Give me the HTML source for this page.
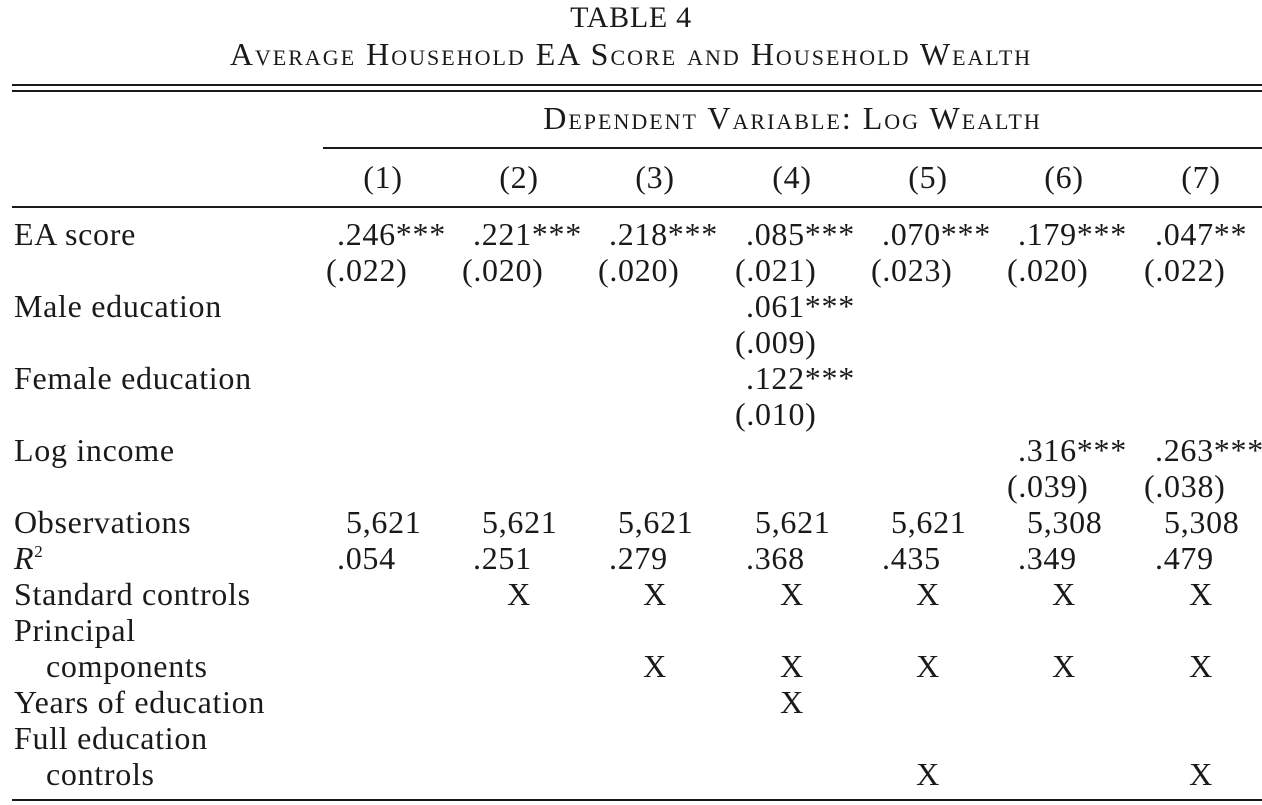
<!DOCTYPE html>
<html><head><meta charset="utf-8">
<style>
html,body{margin:0;padding:0;background:#fff;}
#page{position:relative;width:1262px;height:805px;overflow:hidden;background:#fff;color:#1a1a1a;font-family:"Liberation Serif",serif;font-size:32px;letter-spacing:0.7px;}
.t{position:absolute;white-space:nowrap;line-height:36px;height:36px;}
.rule{position:absolute;background:#1a1a1a;height:2px;}
.sc{font-variant:small-caps;}
</style></head>
<body>
<div id="page">
  <div class="t" style="left:0;width:1262px;text-align:center;top:0px;font-size:30px;">TABLE 4</div>
  <div class="t sc" style="left:0;width:1262px;text-align:center;top:36px;font-size:32px;letter-spacing:2px;">Average Household EA Score and Household Wealth</div>
  <div class="rule" style="left:12px;width:1250px;top:84px;"></div>
  <div class="rule" style="left:12px;width:1250px;top:90px;"></div>
  <div class="t sc" style="left:323px;width:939px;text-align:center;top:100px;font-size:32px;letter-spacing:2px;">Dependent Variable: Log Wealth</div>
  <div class="rule" style="left:323px;width:939px;top:147px;"></div>
  <div class="rule" style="left:12px;width:1250px;top:206px;"></div>
  <div class="rule" style="left:12px;width:1250px;top:799px;"></div>
</div>
<script>
const page=document.getElementById('page');
const colCenters=[383,519,655,792,928,1064,1201];
const colLabels=['(1)','(2)','(3)','(4)','(5)','(6)','(7)'];
const rowLabels=['EA score','','Male education','','Female education','','Log income','','Observations','R²','Standard controls','Principal','components','Years of education','Full education','controls'];
const rowIndent=[0,0,0,0,0,0,0,0,0,0,0,0,1,0,0,1];
const cells=[
[0,0,'.246***','c'],[0,1,'.221***','c'],[0,2,'.218***','c'],[0,3,'.085***','c'],[0,4,'.070***','c'],[0,5,'.179***','c'],[0,6,'.047**','c'],
[1,0,'(.022)','p'],[1,1,'(.020)','p'],[1,2,'(.020)','p'],[1,3,'(.021)','p'],[1,4,'(.023)','p'],[1,5,'(.020)','p'],[1,6,'(.022)','p'],
[2,3,'.061***','c'],[3,3,'(.009)','p'],[4,3,'.122***','c'],[5,3,'(.010)','p'],
[6,5,'.316***','c'],[6,6,'.263***','c'],[7,5,'(.039)','p'],[7,6,'(.038)','p'],
[8,0,'5,621','o'],[8,1,'5,621','o'],[8,2,'5,621','o'],[8,3,'5,621','o'],[8,4,'5,621','o'],[8,5,'5,308','o'],[8,6,'5,308','o'],
[9,0,'.054','c'],[9,1,'.251','c'],[9,2,'.279','c'],[9,3,'.368','c'],[9,4,'.435','c'],[9,5,'.349','c'],[9,6,'.479','c'],
[10,1,'X','x'],[10,2,'X','x'],[10,3,'X','x'],[10,4,'X','x'],[10,5,'X','x'],[10,6,'X','x'],
[12,2,'X','x'],[12,3,'X','x'],[12,4,'X','x'],[12,5,'X','x'],[12,6,'X','x'],
[13,3,'X','x'],[15,4,'X','x'],[15,6,'X','x']
];
function rowTop(r){return 216+r*36;}
colLabels.forEach((lab,i)=>{
  const d=document.createElement('div');
  d.className='t';d.textContent=lab;
  d.style.left=(colCenters[i]-60)+'px';d.style.width='120px';d.style.textAlign='center';d.style.top='159px';
  
  
  page.appendChild(d);
});
rowLabels.forEach((lab,r)=>{
  if(!lab)return;
  const d=document.createElement('div');
  d.className='t';
  if(lab==='R²'){d.innerHTML='<i>R</i><sup style="font-size:17px;vertical-align:12px;line-height:0">2</sup>';}
  else d.textContent=lab;
  d.style.left=(14+rowIndent[r]*32)+'px';d.style.top=rowTop(r)+'px';
  
  
  page.appendChild(d);
});
const offs={c:-46,p:-57,o:-37};
cells.forEach(([r,c,txt,k])=>{
  const d=document.createElement('div');
  d.className='t';d.textContent=txt;
  if(k==='x'){d.style.left=(colCenters[c]-30)+'px';d.style.width='60px';d.style.textAlign='center';}
  else d.style.left=(colCenters[c]+offs[k])+'px';
  d.style.top=rowTop(r)+'px';
  
  
  page.appendChild(d);
});
</script>
</body></html>
